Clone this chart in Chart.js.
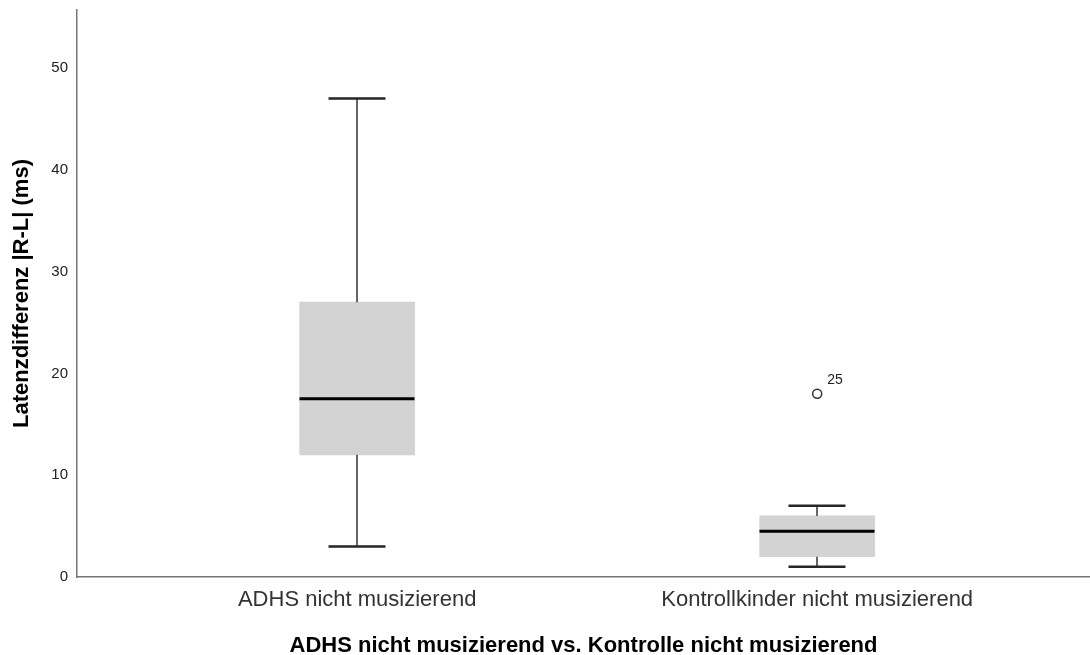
<!DOCTYPE html>
<html>
<head>
<meta charset="utf-8">
<script src="https://cdn.jsdelivr.net/npm/chart.js@4/dist/chart.umd.min.js"></script>
<style>
  html, body { margin: 0; padding: 0; background: #fff; }
  #wrap { width: 1090px; height: 655px; }
</style>
</head>
<body>
<div id="wrap"><canvas id="c" width="1090" height="655"></canvas></div>
<script>
// Group labels and box-plot summary statistics (ms)
const categories = ['ADHS nicht musizierend', 'Kontrollkinder nicht musizierend'];
const positions  = [1, 2];
const whiskerLow = [3, 1];
const q1         = [12, 2];
const medians    = [17.5, 4.5];
const q3         = [27, 6];
const whiskerHigh = [47, 7];
// Outliers: group position, value, case number
const outlierX     = [2];
const outlierY     = [18];
const outlierCase  = ['25'];
const yTicks = [0, 10, 20, 30, 40, 50];

const FONT = '"Liberation Sans", Arial, sans-serif';

const boxPlugin = {
  id: 'boxParts',
  afterDatasetsDraw(chart) {
    const ctx = chart.ctx;
    const xs = chart.scales.x, ys = chart.scales.y;
    const boxW = 115, capW = 57;
    ctx.save();
    positions.forEach((p, i) => {
      const cx = Math.round(xs.getPixelForValue(p));
      const yLo = ys.getPixelForValue(whiskerLow[i]);
      const yQ1 = ys.getPixelForValue(q1[i]);
      const yQ3 = ys.getPixelForValue(q3[i]);
      const yHi = ys.getPixelForValue(whiskerHigh[i]);
      const yMed = ys.getPixelForValue(medians[i]);
      // whisker stems
      ctx.strokeStyle = '#666';
      ctx.lineWidth = 2;
      ctx.beginPath();
      ctx.moveTo(cx, yQ1); ctx.lineTo(cx, yLo);
      ctx.moveTo(cx, yQ3); ctx.lineTo(cx, yHi);
      ctx.stroke();
      // whisker caps
      ctx.strokeStyle = '#262626';
      ctx.lineWidth = 2.5;
      ctx.beginPath();
      ctx.moveTo(cx - capW / 2, yLo); ctx.lineTo(cx + capW / 2, yLo);
      ctx.moveTo(cx - capW / 2, yHi); ctx.lineTo(cx + capW / 2, yHi);
      ctx.stroke();
      // median
      ctx.strokeStyle = '#000';
      ctx.lineWidth = 3;
      ctx.beginPath();
      ctx.moveTo(cx - boxW / 2, yMed); ctx.lineTo(cx + boxW / 2, yMed);
      ctx.stroke();
    });
    // case labels next to outliers
    ctx.fillStyle = '#222';
    ctx.font = '14px ' + FONT;
    ctx.textAlign = 'left';
    ctx.textBaseline = 'middle';
    outlierX.forEach((p, i) => {
      const px = xs.getPixelForValue(p);
      const py = ys.getPixelForValue(outlierY[i]);
      ctx.fillText(outlierCase[i], px + 10, py - 14);
    });
    ctx.restore();
  }
};

new Chart(document.getElementById('c'), {
  type: 'bar',
  data: {
    datasets: [
      {
        type: 'bar',
        label: 'box',
        data: positions.map((p, i) => ({ x: p, y: [q1[i], q3[i]] })),
        backgroundColor: '#d3d3d3',
        borderWidth: 0,
        barThickness: 115,
        order: 2
      },
      {
        type: 'scatter',
        label: 'outliers',
        data: outlierX.map((p, i) => ({ x: p, y: outlierY[i] })),
        pointStyle: 'circle',
        radius: 4.5,
        backgroundColor: '#fff',
        borderColor: '#333',
        borderWidth: 1.5,
        order: 1
      }
    ]
  },
  options: {
    responsive: false,
    animation: false,
    events: [],
    layout: { autoPadding: false, padding: { top: 10, right: 0, left: 0, bottom: 0 } },
    plugins: { legend: { display: false }, tooltip: { enabled: false } },
    scales: {
      x: {
        type: 'linear',
        offset: false,
        min: 0.391,
        max: 2.593,
        afterBuildTicks(scale) { scale.ticks = positions.map(v => ({ value: v })); },
        afterFit(scale) {
          scale.height = 78;
          scale.paddingLeft = 0; scale.paddingRight = 0;
          scale.paddingTop = 0; scale.paddingBottom = 0;
        },
        grid: { display: false, drawTicks: false },
        border: { display: true, color: '#777', width: 1.5 },
        ticks: {
          padding: 10,
          maxRotation: 0,
          color: '#333',
          font: { family: FONT, size: 22 },
          callback(v) { return categories[positions.indexOf(v)] || ''; }
        },
        title: {
          display: true,
          text: 'ADHS nicht musizierend vs. Kontrolle nicht musizierend',
          color: '#000',
          font: { family: FONT, size: 22, weight: 'bold', lineHeight: 1 },
          padding: { top: 12, bottom: -2 }
        }
      },
      y: {
        type: 'linear',
        min: 0,
        max: 55.7,
        afterBuildTicks(scale) { scale.ticks = yTicks.map(v => ({ value: v })); },
        afterFit(scale) {
          scale.width = 77;
          scale.paddingLeft = 0; scale.paddingRight = 0;
          scale.paddingTop = 0; scale.paddingBottom = 0;
        },
        grid: { display: false, drawTicks: false },
        border: { display: true, color: '#777', width: 1.5 },
        ticks: {
          padding: 9,
          color: '#222',
          font: { family: FONT, size: 15 }
        },
        title: {
          display: true,
          text: 'Latenzdifferenz |R-L| (ms)',
          color: '#000',
          font: { family: FONT, size: 22, weight: 'bold' },
          padding: { top: 9, bottom: 0 }
        }
      }
    }
  },
  plugins: [boxPlugin]
});
</script>
</body>
</html>
